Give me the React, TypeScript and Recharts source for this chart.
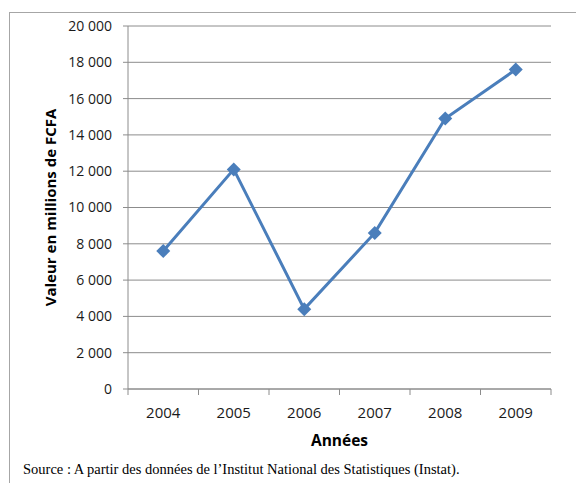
import React from "react";
import { LineChart, Line, XAxis, YAxis, CartesianGrid, Label } from "recharts";

const years = ["2004", "2005", "2006", "2007", "2008", "2009"];
const values = [7600, 12100, 4400, 8600, 14900, 17600];
const yTicks = [0, 2000, 4000, 6000, 8000, 10000, 12000, 14000, 16000, 18000, 20000];

const data = years.map((year, i) => ({ year, value: values[i] }));

const FONT = "'Open Sans', sans-serif";
const AXIS_GRAY = "#8c8c8c";
const LINE_BLUE = "#4a7ebb";
const X_TICK_SIZE = 6;
const X_TICK_MARGIN = 12;

function fmt(v: number): string {
  if (v < 1000) return String(v);
  const th = Math.floor(v / 1000);
  const rest = String(v % 1000).padStart(3, "0");
  return `${th} ${rest}`;
}

function YearTick(props: any) {
  const { x, y, payload, index, visibleTicksCount, width } = props;
  const bw = (width ?? 423) / (visibleTicksCount || years.length);
  const axisY = y - X_TICK_SIZE - X_TICK_MARGIN;
  const left = x - bw / 2;
  return (
    <g>
      <line x1={left} x2={left} y1={axisY} y2={axisY + X_TICK_SIZE} stroke={AXIS_GRAY} />
      {index === visibleTicksCount - 1 && (
        <line x1={x + bw / 2} x2={x + bw / 2} y1={axisY} y2={axisY + X_TICK_SIZE} stroke={AXIS_GRAY} />
      )}
      <text x={x} y={y} dy="0.71em" textAnchor="middle" fill="#1a1a1a" fontSize={15} fontFamily={FONT}>
        {payload.value}
      </text>
    </g>
  );
}

function Diamond(props: any) {
  const { cx, cy } = props;
  if (cx == null || cy == null) return null;
  const r = 7;
  return (
    <polygon
      points={`${cx},${cy - r} ${cx + r},${cy} ${cx},${cy + r} ${cx - r},${cy}`}
      fill={LINE_BLUE}
    />
  );
}

function YTitle(props: any) {
  const { viewBox } = props;
  const x = viewBox.x + 50;
  const y = viewBox.y + viewBox.height / 2;
  return (
    <text
      x={x}
      y={y}
      transform={`rotate(-90, ${x}, ${y})`}
      textAnchor="middle"
      dominantBaseline="central"
      fontFamily={FONT}
      fontSize={15}
      fontWeight="bold"
      fill="#000"
    >
      Valeur en millions de FCFA
    </text>
  );
}

export default function App() {
  return (
    <>
      <div
        style={{
          position: "absolute",
          left: 9,
          top: 12,
          width: 567,
          height: 471,
          boxSizing: "border-box",
          borderLeft: "1px solid #a6a6a6",
          borderTop: "1px solid #a6a6a6",
        }}
      />
      <div style={{ position: "absolute", left: 0, top: 0, width: 576, height: 483 }}>
        <LineChart
          width={576}
          height={483}
          data={data}
          margin={{ top: 26, right: 25, bottom: 37, left: 0 }}
        >
          <CartesianGrid vertical={false} stroke={AXIS_GRAY} />
          <XAxis
            dataKey="year"
            scale="band"
            height={57}
            stroke={AXIS_GRAY}
            tickLine={false}
            tickSize={X_TICK_SIZE}
            tickMargin={X_TICK_MARGIN}
            tick={<YearTick />}
            interval={0}
          >
            <Label
              value="Années"
              position="insideBottom"
              offset={0}
              style={{ fontFamily: FONT, fontSize: 15.5, fontWeight: "bold", fill: "#000" }}
            />
          </XAxis>
          <YAxis
            width={128}
            domain={[0, 20000]}
            ticks={yTicks}
            interval={0}
            stroke={AXIS_GRAY}
            tickSize={5}
            tickMargin={11}
            tickFormatter={fmt}
            tick={{ fontFamily: FONT, fontSize: 14, fill: "#1a1a1a" }}
            label={<YTitle />}
          />
          <Line
            dataKey="value"
            stroke={LINE_BLUE}
            strokeWidth={3}
            dot={<Diamond />}
            activeDot={false}
            isAnimationActive={false}
          />
        </LineChart>
      </div>
      <div
        style={{
          position: "absolute",
          left: 23,
          top: 461,
          fontFamily: "'Liberation Serif', 'Times New Roman', serif",
          fontSize: 14.5,
          lineHeight: "16px",
          whiteSpace: "nowrap",
          color: "#000",
        }}
      >
        Source : A partir des données de l’Institut National des Statistiques (Instat).
      </div>
    </>
  );
}
